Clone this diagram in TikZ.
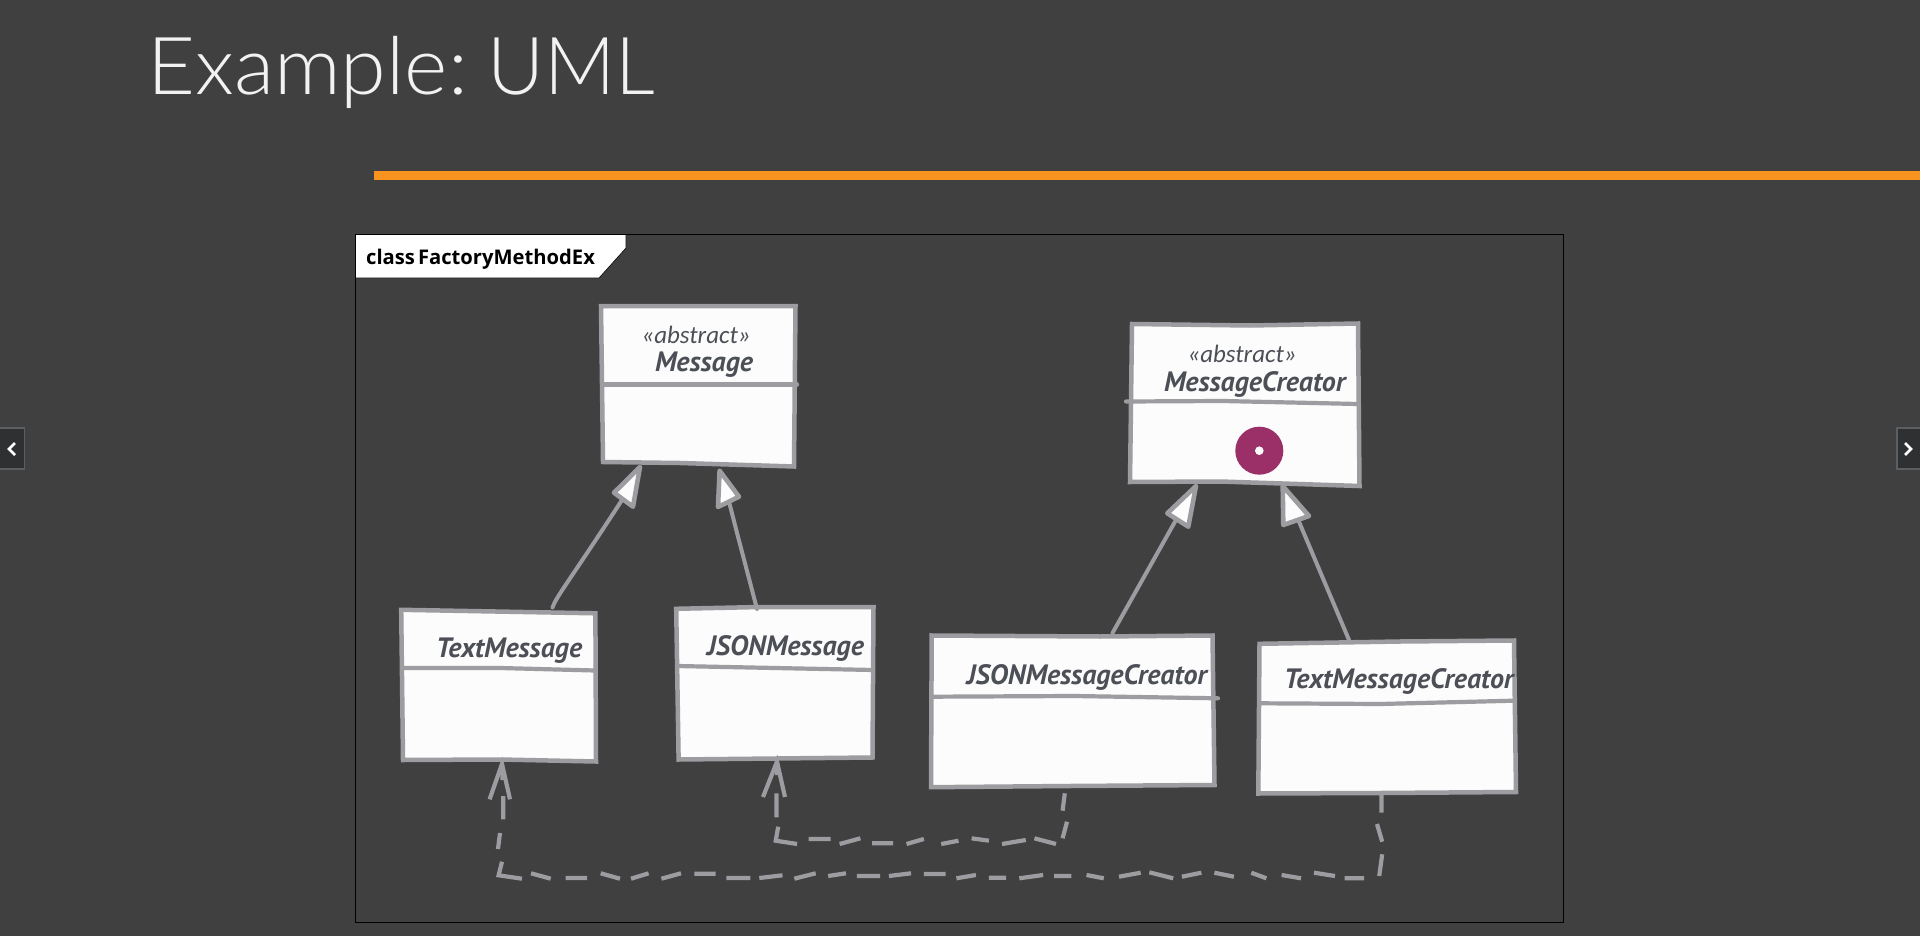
\documentclass[tikz,border=0pt]{standalone}
\usepackage{fontspec}
\usetikzlibrary{calc}
\setmainfont{Carlito}
\newfontfamily\ptsans{PT Sans}
\newfontfamily\opensans{Open Sans}
\newfontfamily\titlefont{Lato Light}
\definecolor{bg}{HTML}{404040}
\definecolor{edge}{HTML}{9C9CA1}
\definecolor{paper}{HTML}{FCFCFC}
\definecolor{ink}{HTML}{4C4F56}
\definecolor{bar}{HTML}{F7931E}
\definecolor{plum}{HTML}{9A3067}
\definecolor{navbg}{HTML}{2E3031}
\definecolor{navln}{HTML}{5C5F61}
\tikzset{
  anchorbox/.style={draw=none,fill=none,inner sep=0pt,outer sep=0pt},
  classbox/.style={draw=edge,fill=paper,line width=4.5pt,line join=miter},
  divider/.style={draw=edge,line width=4.2pt,line cap=round},
  solidconn/.style={draw=edge,line width=4pt,line cap=round},
  dashconn/.style={draw=edge,line width=4.2pt},
  openhead/.style={draw=edge,line width=4.2pt,line join=miter},
  genhead/.style={draw=edge,fill=paper,line width=4.6pt,line join=round},
  namelabel/.style={inner sep=0pt,outer sep=0pt,anchor=base west,text=ink,font=\ptsans\bfseries\itshape\fontsize{28}{30}\selectfont},
  stereolabel/.style={inner sep=0pt,outer sep=0pt,anchor=base west,text=ink,font=\itshape\fontsize{25}{27}\selectfont},
  navbtn/.style={draw=navln,fill=navbg,line width=1.2pt},
  chevron/.style={draw=white,line width=2.6pt},
}
\begin{document}
\begin{tikzpicture}[x=1pt,y=-1pt]
\useasboundingbox (0,0) rectangle (1920,936);
\fill[bg] (0,0) rectangle (1920,936);
% title and bar
\node[inner sep=0pt,anchor=base west,text=white!95!black,font=\titlefont\fontsize{80}{85}\selectfont] (title) at (147,95) {\scalebox{1.035}[1]{Example:}\kern-2pt\ \scalebox{0.98}[1]{UML}};
\fill[bar] (374,171) rectangle (1920,180);
% nav buttons
\draw[navbtn] (-2,428) rectangle (24.5,469);
\draw[chevron] (15,443) -- (9,449) -- (15,455);
\draw[navbtn] (1922,428) rectangle (1897,469);
\draw[chevron] (1905,443) -- (1911,449) -- (1905,455);
% frame
\draw[black,line width=1pt] (355.5,234.5) rectangle (1563.5,922.5);
\fill[white,draw=black,line width=.6pt] (355.5,234.5) -- (626,234.5) -- (626,248) -- (599,278) -- (355.5,278) -- cycle;
\node[inner sep=0pt,anchor=base west,text=black,font=\opensans\bfseries\fontsize{20.2}{22}\selectfont] (frametag) at (366,264.5) {class\kern3pt FactoryMethodEx};
% layout anchors of the classes
\node[anchorbox,minimum width=195pt,minimum height=160pt] (msg) at (698,385) {};
\node[anchorbox,minimum width=228pt,minimum height=163pt] (mcr) at (1245,404) {};
\node[anchorbox,minimum width=195pt,minimum height=152pt] (tm) at (498.5,685.5) {};
\node[anchorbox,minimum width=197pt,minimum height=152pt] (jm) at (775,683) {};
\node[anchorbox,minimum width=284pt,minimum height=152pt] (jc) at (1072.5,711) {};
\node[anchorbox,minimum width=258pt,minimum height=154pt] (tc) at (1387,717) {};
% Message
\draw[classbox] (601,306) -- (795.5,306) -- (794,466.5) -- (680,463) -- (603,462) -- cycle;
\draw[divider] (602,384.5) -- (797,384.5);
\node[stereolabel] (msgS) at (641.5,343.7) {«abstract»};
\node[namelabel] (msgN) at (655,371.7) {Message};
% MessageCreator
\draw[classbox] (1132,324) -- (1250,325.5) -- (1358,323.5) -- (1359.5,486) -- (1220,481.5) -- (1130,482) -- cycle;
\draw[divider] (1126,401.5) -- (1223,401) -- (1358,404);
\node[stereolabel] (mcrS) at (1187.5,362.7) {«abstract»};
\node[namelabel] (mcrN) at (1164,391.7) {MessageCreator};
\fill[plum] (1259.3,450.7) circle[radius=24];
\fill[paper] (1259.3,450.7) circle[radius=4.3];
% TextMessage
\draw[classbox] (401.2,609.8) -- (595.4,613.3) -- (596,761.5) -- (500,759.5) -- (403,760) -- cycle;
\draw[divider] (402,668) -- (500,668) -- (595,670.5);
\node[namelabel] (tmN) at (436,657.7) {TextMessage};
% JSONMessage
\draw[classbox] (676.2,608.8) -- (760,607) -- (873.5,607.2) -- (872.5,757.5) -- (678.6,759.5) -- cycle;
\draw[divider] (677,666) -- (873,670);
\node[namelabel] (jmN) at (706.8,655.8) {JSONMessage};
% JSONMessageCreator
\draw[classbox] (931.7,635.5) -- (1100,636.5) -- (1212.5,635.5) -- (1214.5,785) -- (1070,786) -- (931,787.2) -- cycle;
\draw[divider] (932,696.7) -- (1073.5,696) -- (1218,698.3);
\node[namelabel] (jcN) at (966.5,684.7) {JSONMessageCreator};
% TextMessageCreator
\draw[classbox] (1259.5,643.8) -- (1400,641.5) -- (1514,640.5) -- (1516,792) -- (1380,793) -- (1258.3,793.5) -- cycle;
\draw[divider] (1261,703.3) -- (1380,704) -- (1514,700.7);
\node[namelabel] (tcN) at (1284,688.2) {TextMessageCreator};
% generalisations
\draw[solidconn] ($(tm.north)+(54,-2)$) .. controls (556,597) and (570,580) .. (622,500) -- ($(msg.south)+(-58,2)$);
\draw[genhead] (640,467) -- (614,492.7) -- (633,506.7) -- cycle;
\draw[solidconn] ($(jm.north)+(-18,2)$) -- (738,536.7) -- (729,501.7) -- ($(msg.south)+(21.6,5.7)$);
\draw[genhead] (719.6,470.7) -- (718,507) -- (739,496.7) -- cycle;
\draw[solidconn] ($(jc.north)+(40,-2)$) -- (1175,521.7) -- ($(mcr.south)+(-49,0.5)$);
\draw[genhead] (1196,486) -- (1167.3,513.3) -- (1188.3,526.7) -- cycle;
\draw[solidconn] ($(tc.north)+(-38,0)$) -- (1299,521.7) -- ($(mcr.south)+(37.7,0.5)$);
\draw[genhead] (1282.7,486) -- (1283.3,525) -- (1309,516) -- cycle;
% dependency JSONMessageCreator -> JSONMessage
\draw[dashconn] ($(jc.south)+(-7.7,6.3)$) -- (1062.6,810.7)
  (1067,821.7) -- (1062.6,838.3)
  (1056,844) -- (1034.4,838.3)
  (1025.8,840) -- (1002,844)
  (988.9,840.7) -- (971.6,838.3)
  (958.5,840.7) -- (941.2,844)
  (923.9,839) -- (906.5,844)
  (893.2,843.3) -- (872.1,843.3)
  (860.4,838.3) -- (839.6,844)
  (830.7,839) -- (808.6,839)
  (797.1,844) -- (775.7,840.7) -- (778.2,826.7)
  (776.4,817.3) -- (776.4,793.3)
  (777,775) -- ($(jm.south)+(2,2.7)$);
\draw[openhead] (763,797) -- ($(jm.south)+(2,2.7)$) -- (785,797);
% dependency TextMessageCreator -> TextMessage
\draw[dashconn] ($(tc.south)+(-5.6,1)$) -- (1381.4,812.7)
  (1377,824) -- (1382.2,841.7)
  (1382.2,854.3) -- (1379.2,876)
  (1364,878.3) -- (1344.5,878.3)
  (1335,876) -- (1314,872.7)
  (1301,878.3) -- (1281.6,875)
  (1266.4,878.3) -- (1251.3,872.7)
  (1233.9,876.7) -- (1214.4,872.7)
  (1201.4,872.7) -- (1181.9,876.7)
  (1173.2,878.3) -- (1149.3,872.3)
  (1140.7,872.7) -- (1119,876.7)
  (1103.8,878.3) -- (1086.5,875)
  (1071.3,876) -- (1054,876)
  (1043.1,875) -- (1019.3,878.3)
  (1006.2,877.7) -- (988.9,877.7)
  (975.9,875) -- (956.4,878.3)
  (945.5,874) -- (923.9,874)
  (911,873.3) -- (888.9,876)
  (880,876) -- (856.8,876)
  (846,873.3) -- (828.2,876)
  (815.7,873.3) -- (794.3,878.7)
  (782.5,875.3) -- (759.3,878)
  (750.4,878) -- (726.4,878)
  (715.7,873.7) -- (694.3,873.7)
  (681,873.3) -- (661.4,878.7)
  (648.6,873.3) -- (631,878.7)
  (620,878.7) -- (600.7,873.3)
  (587.1,878) -- (565.7,878)
  (550.7,878.7) -- (531,873.3)
  (522,878.7) -- (498.6,875.3) -- (502,861.7)
  (500,833) -- (498,849)
  (503.2,819.3) -- (503.2,796)
  (502.5,780) -- ($(tm.south)+(3.5,2.5)$);
\draw[openhead] (489.6,799.3) -- ($(tm.south)+(3.5,2.5)$) -- (510,799.3);
\end{tikzpicture}
\end{document}
